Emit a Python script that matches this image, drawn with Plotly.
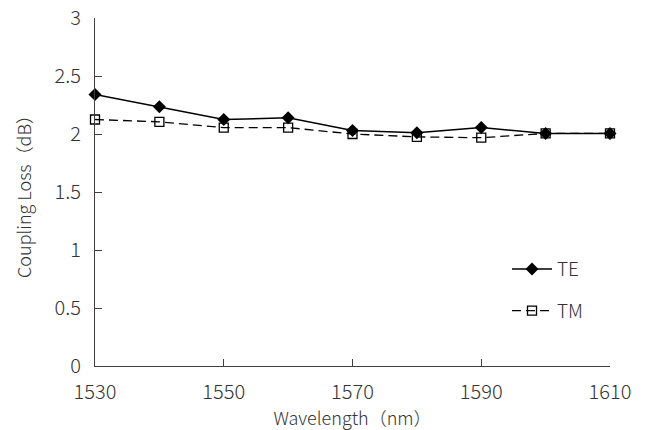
import plotly.graph_objects as go

wavelength = [1530, 1540, 1550, 1560, 1570, 1580, 1590, 1600, 1610]
te_loss = [2.34, 2.235, 2.125, 2.14, 2.03, 2.01, 2.055, 2.005, 2.005]
tm_loss = [2.125, 2.105, 2.055, 2.055, 2.0, 1.975, 1.968, 2.005, 2.005]
x_ticks = [1530, 1550, 1570, 1590, 1610]
y_ticks = [0, 0.5, 1, 1.5, 2, 2.5, 3]

FONT = "Noto Sans CJK JP"
fig = go.Figure()
fig.add_trace(go.Scatter(
    x=wavelength, y=te_loss, name="TE", mode="lines+markers",
    line=dict(color="black", width=1.5),
    marker=dict(symbol="diamond", size=10, color="black"),
    legendgroup="a",
))
fig.add_trace(go.Scatter(
    x=wavelength, y=tm_loss, name="TM", mode="lines+markers",
    line=dict(color="black", width=1.3, dash="9px,5px"),
    marker=dict(symbol="square-open", size=9, color="black", line=dict(width=1.3)),
    legendgroup="b",
))

fig.update_layout(
    template="none",
    width=648, height=430,
    margin=dict(l=95, r=38, t=18, b=64),
    paper_bgcolor="white", plot_bgcolor="white",
    font=dict(family=FONT, size=20, color="#333333", weight=300),
    legend=dict(x=0.8, y=0.333, xanchor="left", yanchor="top",
                bgcolor="rgba(0,0,0,0)", traceorder="grouped",
                tracegroupgap=14, font=dict(size=19, color="#333333", weight=300),
                itemwidth=40),
    xaxis=dict(range=[1530, 1610], tickvals=x_ticks, ticks="inside", ticklen=7,
               tickcolor="#404040", showline=True, linecolor="#404040", linewidth=1,
               showgrid=False, zeroline=False, automargin=False, ticklabelstandoff=8,
               ticklabeloverflow="allow",
               title=dict(text="Wavelength（nm）", font=dict(size=18), standoff=5)),
    yaxis=dict(range=[0, 3], tickvals=y_ticks, ticks="inside", ticklen=7,
               tickcolor="#404040", showline=True, linecolor="#404040", linewidth=1,
               showgrid=False, zeroline=False, automargin=False, ticklabelstandoff=9,
               ticklabeloverflow="allow",
               title=dict(text="Coupling Loss（dB）", font=dict(size=18), standoff=18)),
)
fig.update_traces(cliponaxis=False)
fig.write_html("out.html", config={"displayModeBar": False},
               post_script="document.body.style.margin='0';")
